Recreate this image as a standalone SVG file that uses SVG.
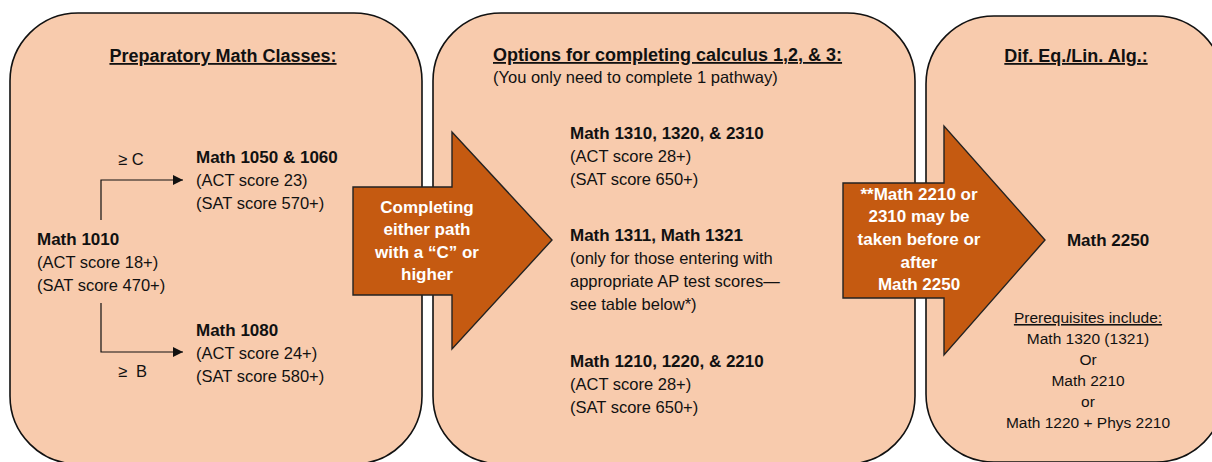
<svg xmlns="http://www.w3.org/2000/svg" width="1212" height="462" viewBox="0 0 1212 462">
<defs>
<style>
.box{fill:#F8CBAD;stroke:#111;stroke-width:1.6}
.arr{fill:#C55A11;stroke:#222;stroke-width:1.4}
text{font-family:"Liberation Sans",Arial,sans-serif;fill:#111}
.h{font-size:18px;font-weight:bold;text-decoration:underline}
.b{font-size:17px;font-weight:bold}
.r{font-size:16.5px}
.s{font-size:15.5px}
.w{font-size:17px;font-weight:bold;fill:#fff}
.c{text-anchor:middle}
.con{fill:none;stroke:#111;stroke-width:1.2}
</style>
<marker id="ah" viewBox="0 0 10 10" refX="10" refY="5" markerWidth="10" markerHeight="10" markerUnits="userSpaceOnUse" orient="auto">
<path d="M0,0 L10,5 L0,10 z" fill="#111"/>
</marker>
</defs>

<g id="prep">
<rect class="box" x="10" y="13" width="412" height="451" rx="68" ry="68"/>
<text class="h c" x="223" y="62">Preparatory Math Classes:</text>
</g>

<g id="math1010">
<text class="b" x="37" y="245">Math 1010</text>
<text class="r" x="37" y="268">(ACT score 18+)</text>
<text class="r" x="37" y="291">(SAT score 470+)</text>
</g>

<g id="math1050">
<text class="b" x="196" y="163">Math 1050 &amp; 1060</text>
<text class="r" x="196" y="186">(ACT score 23)</text>
<text class="r" x="196" y="209">(SAT score 570+)</text>
</g>

<g id="math1080">
<text class="b" x="196" y="336">Math 1080</text>
<text class="r" x="196" y="359">(ACT score 24+)</text>
<text class="r" x="196" y="382">(SAT score 580+)</text>
</g>

<g id="connectors">
<path class="con" d="M101,220 V180 H183" marker-end="url(#ah)"/>
<path class="con" d="M101,303 V352 H183" marker-end="url(#ah)"/>
<text class="r" x="118" y="165">≥ C</text>
<text class="r" x="118" y="377">≥<tspan x="136">B</tspan></text>
</g>

<g id="calc">
<rect class="box" x="433" y="13" width="482" height="451" rx="68" ry="68"/>
<text class="h" x="493" y="61">Options for completing calculus 1,2, &amp; 3:</text>
<text class="r" x="493" y="83">(You only need to complete 1 pathway)</text>
<text class="b" x="570" y="139">Math 1310, 1320, &amp; 2310</text>
<text class="r" x="570" y="162">(ACT score 28+)</text>
<text class="r" x="570" y="185">(SAT score 650+)</text>
<text class="b" x="570" y="241">Math 1311, Math 1321</text>
<text class="r" x="570" y="264">(only for those entering with</text>
<text class="r" x="570" y="287">appropriate AP test scores—</text>
<text class="r" x="570" y="310">see table below*)</text>
<text class="b" x="570" y="367">Math 1210, 1220, &amp; 2210</text>
<text class="r" x="570" y="390">(ACT score 28+)</text>
<text class="r" x="570" y="413">(SAT score 650+)</text>
</g>

<g id="diffeq">
<rect class="box" x="926" y="16" width="298" height="446" rx="68" ry="68"/>
<text class="h c" x="1076" y="62">Dif. Eq./Lin. Alg.:</text>
<text class="b c" x="1108" y="246">Math 2250</text>
<text class="s c" x="1088" y="323" text-decoration="underline">Prerequisites include:</text>
<text class="s c" x="1088" y="344">Math 1320 (1321)</text>
<text class="s c" x="1088" y="365">Or</text>
<text class="s c" x="1088" y="386">Math 2210</text>
<text class="s c" x="1088" y="407">or</text>
<text class="s c" x="1088" y="428">Math 1220 + Phys 2210</text>
</g>

<g id="arrow1">
<path class="arr" d="M353,187 H452 V132 L552,240 L452,349 V295 H353 Z"/>
<text class="w c" x="427" y="213">Completing</text>
<text class="w c" x="427" y="235">either path</text>
<text class="w c" x="427" y="258">with a “C” or</text>
<text class="w c" x="427" y="280">higher</text>
</g>

<g id="arrow2">
<path class="arr" d="M843,183 H944 V126 L1045,240 L944,355 V298 H843 Z"/>
<text class="w c" x="919" y="200">**Math 2210 or</text>
<text class="w c" x="919" y="222">2310 may be</text>
<text class="w c" x="919" y="245">taken before or</text>
<text class="w c" x="919" y="268">after</text>
<text class="w c" x="919" y="290">Math 2250</text>
</g>
</svg>
